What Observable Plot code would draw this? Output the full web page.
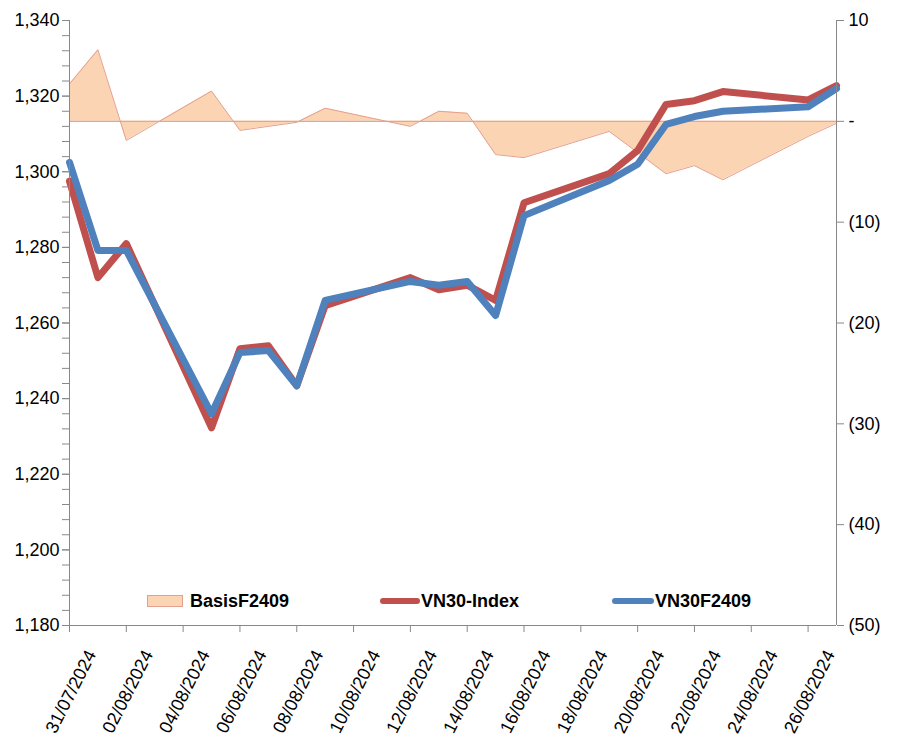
<!DOCTYPE html>
<html><head><meta charset="utf-8">
<script src="https://cdn.jsdelivr.net/npm/d3@7"></script>
<script src="https://cdn.jsdelivr.net/npm/@observablehq/plot@0.6"></script>
<style>
body{margin:0;background:#fff;font-family:"Liberation Sans",Arial,sans-serif;}
#wrap{position:relative;width:897px;height:738px;}
.lg{position:absolute;font-weight:bold;font-size:18px;color:#000;line-height:18px;}
.sw{position:absolute;}
</style></head><body><div id="wrap"></div>
<script>
const dates = ["2024-07-31","2024-08-01","2024-08-02","2024-08-05","2024-08-06","2024-08-07","2024-08-08","2024-08-09","2024-08-12","2024-08-13","2024-08-14","2024-08-15","2024-08-16","2024-08-19","2024-08-20","2024-08-21","2024-08-22","2024-08-23","2024-08-26","2024-08-27"];
const vn30Index = [1297.5,1272,1281,1232.3,1253.2,1254,1243.4,1264.6,1272,1268.8,1270,1266,1291.8,1299.5,1305.6,1317.8,1318.8,1321.2,1319,1322.8];
const vn30F2409 = [1302.5,1279.2,1279.2,1236,1252.2,1252.7,1243.4,1266,1271,1270,1271,1262,1288.4,1297.7,1302,1312.5,1314.6,1316,1317.2,1322];
const basisF2409 = [3.7,7.1,-1.9,3.0,-0.9,-0.5,-0.1,1.3,-0.5,1.0,0.8,-3.3,-3.6,-1.0,-3.1,-5.2,-4.4,-5.8,-1.5,-0.2];
const tickDates = ["2024-07-31","2024-08-02","2024-08-04","2024-08-06","2024-08-08","2024-08-10","2024-08-12","2024-08-14","2024-08-16","2024-08-18","2024-08-20","2024-08-22","2024-08-24","2024-08-26"];
const leftTicks = [1180,1200,1220,1240,1260,1280,1300,1320,1340];
const rightTicks = [-50,-40,-30,-20,-10,0,10];

const parse = d3.utcParse("%Y-%m-%d");
const toLeft = v => 1180 + (v + 50) * 160 / 60;
const fromLeft = y => Math.round((y - 1180) * 60 / 160 - 50);
const rows = dates.map((d,i) => ({date: parse(d), vn30: vn30Index[i], vn30f: vn30F2409[i], basis: basisF2409[i]}));
const x0 = parse("2024-07-31"), x1 = parse("2024-08-27");
const minorTicks = d3.range(1180, 1341, 4);
const fmtRight = y => { const v = fromLeft(y); return v > 0 ? String(v) : v === 0 ? "-" : "(" + (-v) + ")"; };
const xTicks = tickDates.map(parse);

const chart = Plot.plot({
  width: 897, height: 738,
  marginLeft: 69, marginRight: 61, marginTop: 20, marginBottom: 113,
  style: {fontFamily: "Liberation Sans, Arial, sans-serif", fontSize: "18px", color: "#000", background: "#fff"},
  x: {type: "utc", domain: [x0, x1]},
  y: {domain: [1180, 1340]},
  marks: [
    Plot.areaY(rows, {x: "date", y1: () => toLeft(0), y2: d => toLeft(d.basis), fill: "#FBD4B4", curve: "linear"}),
    Plot.ruleY([toLeft(0)], {stroke: "#E8A490", strokeWidth: 1.2}),
    Plot.lineY(rows, {x: "date", y: d => toLeft(d.basis), stroke: "#E3A08E", strokeWidth: 1}),
    Plot.lineY(rows, {x: "date", y: "vn30", stroke: "#C0504D", strokeWidth: 7, strokeLinejoin: "round", strokeLinecap: "round"}),
    Plot.lineY(rows, {x: "date", y: "vn30f", stroke: "#4F81BD", strokeWidth: 7, strokeLinejoin: "round", strokeLinecap: "round"}),
    Plot.ruleX([x0], {stroke: "#888"}),
    Plot.ruleX([x1], {stroke: "#888"}),
    Plot.ruleY([1180], {stroke: "#888"}),
    Plot.axisY({anchor: "left", ticks: minorTicks, tickSize: 7, tickFormat: () => "", stroke: "#888", label: null}),
    Plot.axisY({anchor: "left", ticks: leftTicks, tickSize: 7, tickPadding: 3, tickFormat: d3.format(","), stroke: "#888", fill: "#000", label: null}),
    Plot.axisY({anchor: "right", ticks: rightTicks.map(toLeft), tickSize: 7, tickPadding: 5, tickFormat: fmtRight, stroke: "#888", fill: "#000", label: null}),
    Plot.axisX({ticks: xTicks, tickSize: 7, tickFormat: () => "", stroke: "#888", label: null}),
    Plot.axisX({ticks: xTicks, tickFormat: d3.utcFormat("%d/%m/%Y"), tickRotate: -63, tickSize: 0, tickPadding: 11, dx: 22, dy: 15, fill: "#000", label: null})
  ]
});
const wrap = document.getElementById("wrap");
wrap.appendChild(chart);

const legend = [
  {label: "BasisF2409", sx: 147, sw: 36, sy: 595, sh: 12, bg: "#FBD4B4", border: "1px solid #E3A08E", radius: "0", tx: 190},
  {label: "VN30-Index", sx: 380, sw: 40, sy: 598, sh: 6, bg: "#C0504D", border: "none", radius: "3px", tx: 421},
  {label: "VN30F2409", sx: 612, sw: 42, sy: 598, sh: 6, bg: "#4F81BD", border: "none", radius: "3px", tx: 655}
];
for (const l of legend) {
  const s = document.createElement("div");
  s.className = "sw";
  s.style.cssText = `left:${l.sx}px;top:${l.sy}px;width:${l.sw}px;height:${l.sh}px;background:${l.bg};border:${l.border};border-radius:${l.radius};box-sizing:border-box;`;
  wrap.appendChild(s);
  const t = document.createElement("div");
  t.className = "lg";
  t.style.left = l.tx + "px";
  t.style.top = "592px";
  t.textContent = l.label;
  wrap.appendChild(t);
}
</script></body></html>
